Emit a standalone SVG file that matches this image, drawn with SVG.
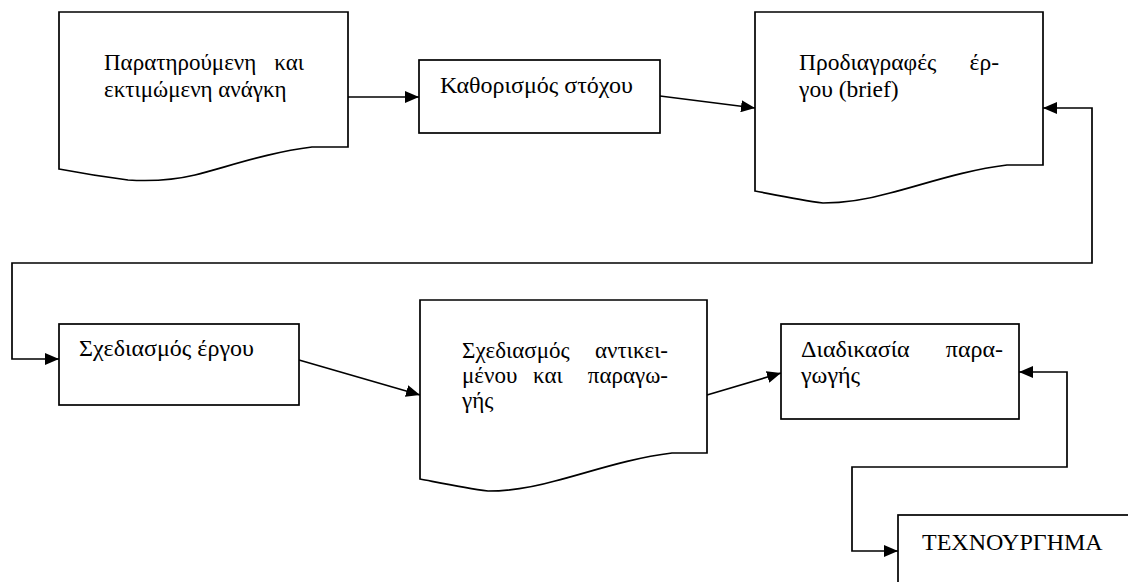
<svg xmlns="http://www.w3.org/2000/svg" width="1128" height="582" viewBox="0 0 1128 582" font-family="Liberation Serif, Times New Roman, serif">
  <style>
    .shape { fill: #ffffff; stroke: #000000; stroke-width: 1.7; }
    .link { fill: none; stroke: #000000; stroke-width: 1.7; }
  </style>
  <defs>
    <marker id="arrow" viewBox="0 0 14 12" refX="14" refY="6" markerWidth="14" markerHeight="12" markerUnits="userSpaceOnUse" orient="auto-start-reverse">
      <path d="M0,0 L14,6 L0,12 Z" fill="#000000"/>
    </marker>
  </defs>
  <rect width="1128" height="582" fill="#ffffff"/>

  <!-- flow connectors -->
  <g id="connectors">
    <path class="link" d="M348,97 L419,97" marker-end="url(#arrow)"/>
    <path class="link" d="M660,96 L755,108" marker-end="url(#arrow)"/>
    <path class="link" d="M1043,108 L1092,108 L1092,263 L12,263 L12,359 L59,359" marker-start="url(#arrow)" marker-end="url(#arrow)"/>
    <path class="link" d="M299,360 L420,395" marker-end="url(#arrow)"/>
    <path class="link" d="M707,395 L781,373" marker-end="url(#arrow)"/>
    <path class="link" d="M1019,372 L1067,372 L1067,467 L852,467 L852,551 L898,551" marker-start="url(#arrow)" marker-end="url(#arrow)"/>
  </g>

  <!-- document: observed and estimated need -->
  <g id="need">
    <path class="shape" d="M59,12 H348 V147 H312 C270,152 230,166 195,175 C170,181 145,181 128,180 C105,177 80,173 59,169 Z"/>
    <text x="104" y="70" font-family="Liberation Serif" font-size="23">Παρατηρούμενη</text>
    <text x="304" y="70" font-family="Liberation Serif" font-size="23" text-anchor="end">και</text>
    <text x="104" y="97" font-family="Liberation Serif" font-size="23">εκτιμώμενη ανάγκη</text>
  </g>

  <!-- process: goal setting -->
  <g id="goal">
    <rect class="shape" x="419" y="60" width="241" height="73"/>
    <text x="440" y="93" font-family="Liberation Serif" font-size="24">Καθορισμός στόχου</text>
  </g>

  <!-- document: brief -->
  <g id="brief">
    <path class="shape" d="M755,12 H1043 V165 H1007 C965,170 925,184 890,193 C865,200 840,203 823,203 C800,200 776,195 755,191 Z"/>
    <text x="799" y="70" font-family="Liberation Serif" font-size="23.5">Προδιαγραφές</text>
    <text x="999" y="70" font-family="Liberation Serif" font-size="23.5" text-anchor="end">έρ-</text>
    <text x="799" y="97" font-family="Liberation Serif" font-size="23.5">γου (brief)</text>
  </g>

  <!-- process: project design -->
  <g id="project-design">
    <rect class="shape" x="59" y="324" width="240" height="81"/>
    <text x="79" y="356" font-family="Liberation Serif" font-size="24">Σχεδιασμός έργου</text>
  </g>

  <!-- document: object and production design -->
  <g id="object-design">
    <path class="shape" d="M420,300 H707 V453 H672 C630,458 590,472 555,481 C530,488 505,491 488,491 C465,488 441,483 420,479 Z"/>
    <text x="462" y="358" font-family="Liberation Serif" font-size="23">Σχεδιασμός</text>
    <text x="668" y="358" font-family="Liberation Serif" font-size="23" text-anchor="end">αντικει-</text>
    <text x="462" y="383" font-family="Liberation Serif" font-size="23">μένου</text>
    <text x="533" y="383" font-family="Liberation Serif" font-size="23">και</text>
    <text x="668" y="383" font-family="Liberation Serif" font-size="23" text-anchor="end">παραγω-</text>
    <text x="462" y="408" font-family="Liberation Serif" font-size="23">γής</text>
  </g>

  <!-- process: production -->
  <g id="production">
    <rect class="shape" x="781" y="324" width="238" height="95"/>
    <text x="801" y="357" font-family="Liberation Serif" font-size="24">Διαδικασία</text>
    <text x="1003" y="357" font-family="Liberation Serif" font-size="24" text-anchor="end">παρα-</text>
    <text x="801" y="383" font-family="Liberation Serif" font-size="24">γωγής</text>
  </g>

  <!-- outcome: artefact -->
  <g id="artefact">
    <rect class="shape" x="898" y="515" width="260" height="100"/>
    <text x="922" y="550" font-family="Liberation Serif" font-size="24">ΤΕΧΝΟΥΡΓΗΜΑ</text>
  </g>
</svg>
